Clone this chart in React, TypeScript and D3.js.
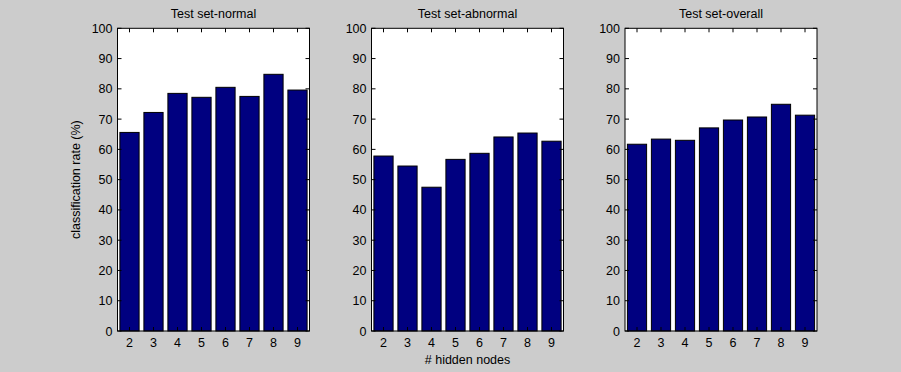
import React from "react";
import * as d3 from "d3";

const hiddenNodes = [2, 3, 4, 5, 6, 7, 8, 9];
const normalRates = [65.6, 72.2, 78.5, 77.2, 80.5, 77.5, 84.8, 79.6];
const abnormalRates = [57.8, 54.5, 47.5, 56.7, 58.7, 64.1, 65.4, 62.7];
const overallRates = [61.7, 63.4, 63.0, 67.1, 69.7, 70.7, 74.9, 71.3];
const yTicks = [0, 10, 20, 30, 40, 50, 60, 70, 80, 90, 100];
const panelTitles = ["Test set-normal", "Test set-abnormal", "Test set-overall"];

const W = 901;
const H = 372;
const panelLefts = [117.5, 371.5, 625];
const panelWidth = 192;
const top = 28.3;
const bottom = 331;
const FONT = "'Liberation Sans', Arial, Helvetica, sans-serif";
const FS = 12.5;

function Panel({ left, title, values, showYLabel, showXLabel }: any) {
  const x = d3.scaleLinear().domain([1.5, 9.5]).range([left, left + panelWidth]);
  const y = d3.scaleLinear().domain([0, 100]).range([bottom, top]);
  const bw = x(0.8) - x(0);
  const tl = 4;
  return (
    <g>
      <rect x={left} y={top} width={panelWidth} height={bottom - top} fill="#ffffff" />
      {values.map((v: number, i: number) => (
        <rect
          key={i}
          x={x(hiddenNodes[i]) - bw / 2}
          y={y(v)}
          width={bw}
          height={y(0) - y(v)}
          fill="#000080"
          stroke="#000000"
          strokeWidth={1}
        />
      ))}
      <rect x={left} y={top} width={panelWidth} height={bottom - top} fill="none" stroke="#000" strokeWidth={1} />
      {yTicks.map((t) => (
        <g key={t}>
          <line x1={left} x2={left + tl} y1={y(t)} y2={y(t)} stroke="#000" />
          <line x1={left + panelWidth} x2={left + panelWidth - tl} y1={y(t)} y2={y(t)} stroke="#000" />
          <text x={left - 5} y={y(t) + 4.5} textAnchor="end" fontFamily={FONT} fontSize={FS} fill="#000">
            {t}
          </text>
        </g>
      ))}
      {hiddenNodes.map((n) => (
        <g key={n}>
          <line x1={x(n)} x2={x(n)} y1={bottom} y2={bottom - tl} stroke="#000" />
          <line x1={x(n)} x2={x(n)} y1={top} y2={top + tl} stroke="#000" />
          <text x={x(n)} y={347} textAnchor="middle" fontFamily={FONT} fontSize={FS} fill="#000">
            {n}
          </text>
        </g>
      ))}
      <text x={left + panelWidth / 2} y={18} textAnchor="middle" fontFamily={FONT} fontSize={FS} fill="#000">
        {title}
      </text>
      {showYLabel && (
        <text
          transform={`translate(${left - 38},${(top + bottom) / 2}) rotate(-90)`}
          textAnchor="middle"
          fontFamily={FONT}
          fontSize={FS}
          fill="#000"
        >
          classification rate (%)
        </text>
      )}
      {showXLabel && (
        <text x={left + panelWidth / 2} y={364} textAnchor="middle" fontFamily={FONT} fontSize={FS} fill="#000">
          # hidden nodes
        </text>
      )}
    </g>
  );
}

export default function App() {
  const series = [normalRates, abnormalRates, overallRates];
  return (
    <svg width={W} height={H} style={{ position: "absolute", left: 0, top: 0 }}>
      <rect x={0} y={0} width={W} height={H} fill="#cccccc" />
      {series.map((vals, i) => (
        <Panel
          key={i}
          left={panelLefts[i]}
          title={panelTitles[i]}
          values={vals}
          showYLabel={i === 0}
          showXLabel={i === 1}
        />
      ))}
    </svg>
  );
}
